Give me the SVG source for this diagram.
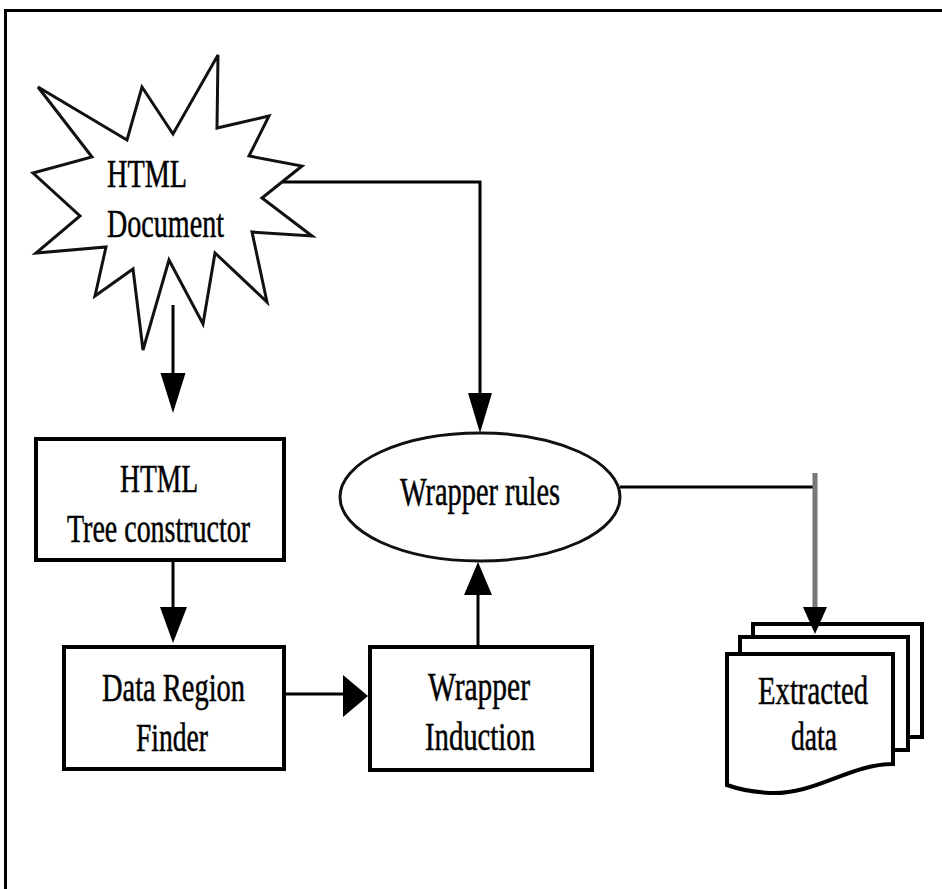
<svg xmlns="http://www.w3.org/2000/svg" width="942" height="889" viewBox="0 0 942 889">
<style>
.t{font-family:"Liberation Serif","Times New Roman",serif;font-size:40px;fill:#000;stroke:#000;stroke-width:0.5}
.box{fill:#fff;stroke:#000;stroke-width:4}
.shape{fill:#fff;stroke:#111;stroke-width:3;stroke-linejoin:miter}
.ln{fill:none;stroke:#000;stroke-width:3}
.head{fill:#000}
</style>
<rect width="942" height="889" fill="#fff"/>
<path d="M5.5,889 V10.5 H942" fill="none" stroke="#000" stroke-width="3"/>

<g id="html-document">
<polygon class="shape" points="218,55 217,128 269,116 249,156 302,166 262,198 312,236 252,232 267,302 215,253 203,324 169,260 143,350 133,269 95,296 106,247 36,253 80,216 33,173 92,157 38,87 127,140 142,87 173,134"/>
<text class="t" x="107" y="187" textLength="80" lengthAdjust="spacingAndGlyphs">HTML</text>
<text class="t" x="107" y="237" textLength="117" lengthAdjust="spacingAndGlyphs">Document</text>
</g>

<g id="tree-constructor">
<rect class="box" x="36" y="439" width="248" height="121"/>
<text class="t" x="120" y="492" textLength="78" lengthAdjust="spacingAndGlyphs">HTML</text>
<text class="t" x="67" y="542" textLength="183" lengthAdjust="spacingAndGlyphs">Tree constructor</text>
</g>

<g id="data-region-finder">
<rect class="box" x="64" y="647" width="220" height="122"/>
<text class="t" x="102" y="701" textLength="143" lengthAdjust="spacingAndGlyphs">Data Region</text>
<text class="t" x="136" y="751" textLength="72" lengthAdjust="spacingAndGlyphs">Finder</text>
</g>

<g id="wrapper-induction">
<rect class="box" x="370" y="647" width="222" height="123"/>
<text class="t" x="428" y="700" textLength="102" lengthAdjust="spacingAndGlyphs">Wrapper</text>
<text class="t" x="425" y="750" textLength="110" lengthAdjust="spacingAndGlyphs">Induction</text>
</g>

<g id="wrapper-rules">
<ellipse class="shape" cx="480" cy="497" rx="140" ry="64"/>
<text class="t" x="400" y="505" textLength="160" lengthAdjust="spacingAndGlyphs">Wrapper rules</text>
</g>

<g id="extracted-data">
<rect class="box" x="753" y="624" width="169" height="113"/>
<rect class="box" x="740" y="637" width="168" height="113"/>
<path class="box" d="M727,654 H893 V764 C850,764 815,795 770,793 C752,792 738,789 727,785 Z"/>
<text class="t" x="758" y="704" textLength="110" lengthAdjust="spacingAndGlyphs">Extracted</text>
<text class="t" x="791" y="750" textLength="46" lengthAdjust="spacingAndGlyphs">data</text>
</g>

<g id="connectors">
<line class="ln" x1="173" y1="305" x2="173" y2="376"/>
<polygon class="head" points="160.5,373 185.5,373 173,413"/>
<path class="ln" d="M283,182 H480 V396"/>
<polygon class="head" points="468,393 492,393 480,433"/>
<line class="ln" x1="173" y1="562" x2="173" y2="610"/>
<polygon class="head" points="160,607 187,607 173,643"/>
<line class="ln" x1="286" y1="694" x2="346" y2="694" stroke-width="5"/>
<polygon class="head" points="343,675 343,717 368,696"/>
<line class="ln" x1="478" y1="645" x2="478" y2="592"/>
<polygon class="head" points="464,595 492,595 478,562"/>
<line class="ln" x1="620" y1="487" x2="815" y2="487"/>
<line x1="815" y1="473" x2="815" y2="610" stroke="#777" stroke-width="5"/>
<polygon class="head" points="803,607 827,607 815,634"/>
</g>
</svg>
